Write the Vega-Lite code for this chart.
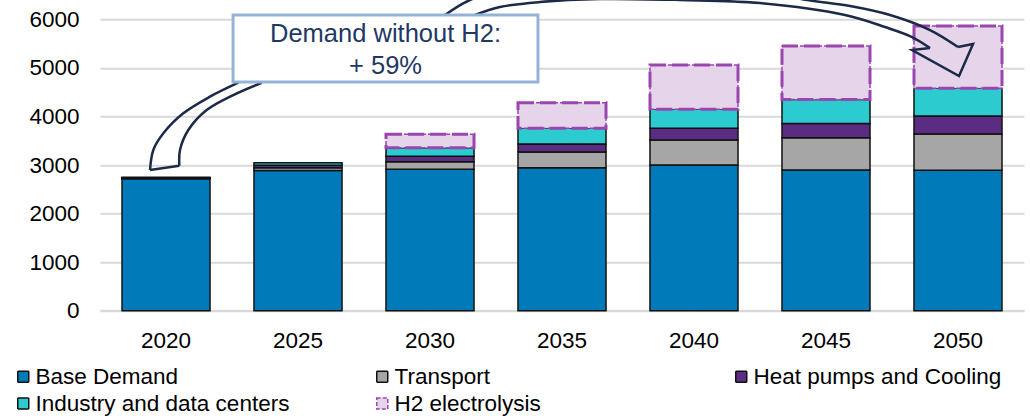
{
  "$schema": "https://vega.github.io/schema/vega-lite/v6.json",
  "width": 924,
  "height": 291.4,
  "autosize": {"type": "none"},
  "padding": {"left": 100, "top": 19.3, "right": 6, "bottom": 107.3},
  "config": {"font": "Liberation Sans", "view": {"stroke": null}},
  "datasets": {
    "bars": [
      {"year": "2020", "series": "Base Demand", "value": 2715, "ord": 1},
      {"year": "2020", "series": "Transport", "value": 12, "ord": 2},
      {"year": "2020", "series": "Heat pumps and Cooling", "value": 10, "ord": 3},
      {"year": "2020", "series": "Industry and data centers", "value": 10, "ord": 4},
      {"year": "2025", "series": "Base Demand", "value": 2885, "ord": 1},
      {"year": "2025", "series": "Transport", "value": 60, "ord": 2},
      {"year": "2025", "series": "Heat pumps and Cooling", "value": 50, "ord": 3},
      {"year": "2025", "series": "Industry and data centers", "value": 52, "ord": 4},
      {"year": "2030", "series": "Base Demand", "value": 2910, "ord": 1},
      {"year": "2030", "series": "Transport", "value": 158, "ord": 2},
      {"year": "2030", "series": "Heat pumps and Cooling", "value": 111, "ord": 3},
      {"year": "2030", "series": "Industry and data centers", "value": 177, "ord": 4},
      {"year": "2030", "series": "H2 electrolysis", "value": 276, "ord": 5},
      {"year": "2035", "series": "Base Demand", "value": 2944, "ord": 1},
      {"year": "2035", "series": "Transport", "value": 324, "ord": 2},
      {"year": "2035", "series": "Heat pumps and Cooling", "value": 164, "ord": 3},
      {"year": "2035", "series": "Industry and data centers", "value": 323, "ord": 4},
      {"year": "2035", "series": "H2 electrolysis", "value": 528, "ord": 5},
      {"year": "2040", "series": "Base Demand", "value": 3000, "ord": 1},
      {"year": "2040", "series": "Transport", "value": 515, "ord": 2},
      {"year": "2040", "series": "Heat pumps and Cooling", "value": 240, "ord": 3},
      {"year": "2040", "series": "Industry and data centers", "value": 392, "ord": 4},
      {"year": "2040", "series": "H2 electrolysis", "value": 912, "ord": 5},
      {"year": "2045", "series": "Base Demand", "value": 2895, "ord": 1},
      {"year": "2045", "series": "Transport", "value": 665, "ord": 2},
      {"year": "2045", "series": "Heat pumps and Cooling", "value": 296, "ord": 3},
      {"year": "2045", "series": "Industry and data centers", "value": 494, "ord": 4},
      {"year": "2045", "series": "H2 electrolysis", "value": 1098, "ord": 5},
      {"year": "2050", "series": "Base Demand", "value": 2890, "ord": 1},
      {"year": "2050", "series": "Transport", "value": 747, "ord": 2},
      {"year": "2050", "series": "Heat pumps and Cooling", "value": 371, "ord": 3},
      {"year": "2050", "series": "Industry and data centers", "value": 570, "ord": 4},
      {"year": "2050", "series": "H2 electrolysis", "value": 1283, "ord": 5}
    ],
    "arrowCurves": [
      {"seg": "a1L", "i": 1, "ax": 1.048, "av": 4694},
      {"seg": "a1L", "i": 2, "ax": 0.833, "av": 4406},
      {"seg": "a1L", "i": 3, "ax": 0.631, "av": 4064},
      {"seg": "a1L", "i": 4, "ax": 0.480, "av": 3652},
      {"seg": "a1L", "i": 5, "ax": 0.404, "av": 3309},
      {"seg": "a1L", "i": 6, "ax": 0.379, "av": 2897},
      {"seg": "a1R", "i": 1, "ax": 1.225, "av": 4694},
      {"seg": "a1R", "i": 2, "ax": 1.010, "av": 4441},
      {"seg": "a1R", "i": 3, "ax": 0.808, "av": 4132},
      {"seg": "a1R", "i": 4, "ax": 0.669, "av": 3720},
      {"seg": "a1R", "i": 5, "ax": 0.606, "av": 3309},
      {"seg": "a1R", "i": 6, "ax": 0.601, "av": 2985},
      {"seg": "a2U", "i": 1, "ax": 2.614, "av": 6088},
      {"seg": "a2U", "i": 2, "ax": 2.803, "av": 6397},
      {"seg": "a2U", "i": 3, "ax": 3.182, "av": 6685},
      {"seg": "a2U", "i": 4, "ax": 3.788, "av": 6850},
      {"seg": "a2U", "i": 5, "ax": 4.545, "av": 6788},
      {"seg": "a2U", "i": 6, "ax": 5.000, "av": 6582},
      {"seg": "a2U", "i": 7, "ax": 5.356, "av": 6397},
      {"seg": "a2U", "i": 8, "ax": 5.682, "av": 6273},
      {"seg": "a2U", "i": 9, "ax": 5.985, "av": 6088},
      {"seg": "a2U", "i": 10, "ax": 6.288, "av": 5779},
      {"seg": "a2U", "i": 11, "ax": 6.500, "av": 5429},
      {"seg": "a2L", "i": 1, "ax": 2.841, "av": 6088},
      {"seg": "a2L", "i": 2, "ax": 3.030, "av": 6253},
      {"seg": "a2L", "i": 3, "ax": 3.333, "av": 6356},
      {"seg": "a2L", "i": 4, "ax": 3.788, "av": 6418},
      {"seg": "a2L", "i": 5, "ax": 4.394, "av": 6397},
      {"seg": "a2L", "i": 6, "ax": 5.000, "av": 6335},
      {"seg": "a2L", "i": 7, "ax": 5.644, "av": 6088},
      {"seg": "a2L", "i": 8, "ax": 5.947, "av": 5841},
      {"seg": "a2L", "i": 9, "ax": 6.152, "av": 5635},
      {"seg": "a2L", "i": 10, "ax": 6.288, "av": 5409}
    ],
    "arrowLines": [
      {"seg": "a1B", "i": 1, "ax": 0.379, "av": 2897},
      {"seg": "a1B", "i": 2, "ax": 0.601, "av": 2985},
      {"seg": "a2H", "i": 1, "ax": 6.288, "av": 5409},
      {"seg": "a2H", "i": 2, "ax": 6.152, "av": 5368},
      {"seg": "a2H", "i": 3, "ax": 6.508, "av": 4832},
      {"seg": "a2H", "i": 4, "ax": 6.614, "av": 5491},
      {"seg": "a2H", "i": 5, "ax": 6.500, "av": 5429}
    ],
    "box": [
      {"x1": 1.008, "x2": 3.318, "v1": 6088, "v2": 4709}
    ],
    "labels": [
      {"text": "Demand without H2:", "ax": 2.163, "av": 5532},
      {"text": "+ 59%", "ax": 2.163, "av": 4873}
    ]
  },
  "layer": [
    {
      "data": {"name": "bars"},
      "mark": {"type": "bar", "strokeWidth": 1.5},
      "encoding": {
        "x": {
          "field": "year", "type": "ordinal",
          "scale": {"paddingInner": 0.3333, "paddingOuter": 0.1667},
          "axis": {"title": null, "labelAngle": 0, "ticks": false, "tickSize": 0, "domain": true, "domainColor": "#D9D9D9", "domainWidth": 2, "labelFontSize": 22.5, "labelColor": "#000000", "labelPadding": 19}
        },
        "y": {
          "field": "value", "type": "quantitative", "stack": "zero",
          "scale": {"domain": [0, 6000], "nice": false},
          "axis": {"title": null, "format": "d", "values": [0, 1000, 2000, 3000, 4000, 5000, 6000], "grid": true, "gridColor": "#D9D9D9", "gridWidth": 2, "domain": false, "ticks": false, "tickSize": 0, "labelPadding": 21, "labelFontSize": 22.5, "labelColor": "#000000"}
        },
        "color": {
          "field": "series", "type": "nominal",
          "scale": {
            "domain": ["Base Demand", "Transport", "Heat pumps and Cooling", "Industry and data centers", "H2 electrolysis"],
            "range": ["#007AB8", "#A6A6A6", "#5A2D82", "#2BCBCF", "#E6D5EA"]
          },
          "legend": {
            "title": null, "orient": "none", "legendX": -88, "legendY": 346,
            "direction": "horizontal", "columns": 3, "gridAlign": "all",
            "columnPadding": 81, "rowPadding": 4, "labelLimit": 0,
            "symbolType": "square", "symbolSize": 121, "symbolStrokeWidth": 1.5,
            "labelFontSize": 22.5, "labelColor": "#000000", "labelOffset": 1
          }
        },
        "stroke": {
          "field": "series", "type": "nominal",
          "scale": {
            "domain": ["Base Demand", "Transport", "Heat pumps and Cooling", "Industry and data centers", "H2 electrolysis"],
            "range": ["#111111", "#111111", "#111111", "#111111", "#9B45B0"]
          }
        },
        "strokeDash": {
          "field": "series", "type": "nominal",
          "scale": {
            "domain": ["Base Demand", "Transport", "Heat pumps and Cooling", "Industry and data centers", "H2 electrolysis"],
            "range": [[1, 0], [1, 0], [1, 0], [1, 0], [4, 2]]
          }
        },
        "order": {"field": "ord", "type": "quantitative"}
      }
    },
    {
      "data": {"name": "bars"},
      "mark": {"type": "bar", "fill": "transparent", "strokeWidth": 3, "strokeDash": [16, 6]},
      "encoding": {
        "x": {
          "field": "year", "type": "ordinal",
          "scale": {"paddingInner": 0.3333, "paddingOuter": 0.1667},
          "axis": null
        },
        "y": {
          "field": "value", "type": "quantitative", "stack": "zero",
          "scale": {"domain": [0, 6000], "nice": false}, "title": null
        },
        "detail": {"field": "series"},
        "stroke": {
          "condition": {"test": "datum.series === 'H2 electrolysis'", "value": "#9B45B0"},
          "value": "transparent"
        },
        "order": {"field": "ord", "type": "quantitative"}
      }
    },
    {
      "data": {"name": "arrowCurves"},
      "mark": {"type": "line", "interpolate": "catmull-rom", "color": "#1C2A48", "strokeWidth": 2.5},
      "encoding": {
        "x": {"field": "ax", "type": "quantitative", "scale": {"domain": [0, 7], "nice": false, "zero": false}, "axis": null},
        "y": {"field": "av", "type": "quantitative", "scale": {"domain": [0, 6000], "nice": false}, "title": null},
        "detail": {"field": "seg"},
        "order": {"field": "i", "type": "quantitative"}
      }
    },
    {
      "data": {"name": "arrowLines"},
      "mark": {"type": "line", "interpolate": "linear", "color": "#1C2A48", "strokeWidth": 2.5, "strokeJoin": "miter"},
      "encoding": {
        "x": {"field": "ax", "type": "quantitative", "scale": {"domain": [0, 7], "nice": false, "zero": false}, "axis": null},
        "y": {"field": "av", "type": "quantitative", "scale": {"domain": [0, 6000], "nice": false}, "title": null},
        "detail": {"field": "seg"},
        "order": {"field": "i", "type": "quantitative"}
      }
    },
    {
      "data": {"name": "box"},
      "mark": {"type": "rect", "fill": "#FFFFFF", "stroke": "#95B3D7", "strokeWidth": 3},
      "encoding": {
        "x": {"field": "x1", "type": "quantitative", "scale": {"domain": [0, 7], "nice": false, "zero": false}, "axis": null},
        "x2": {"field": "x2"},
        "y": {"field": "v1", "type": "quantitative", "scale": {"domain": [0, 6000], "nice": false}, "title": null},
        "y2": {"field": "v2"}
      }
    },
    {
      "data": {"name": "labels"},
      "mark": {"type": "text", "align": "center", "baseline": "alphabetic", "fontSize": 25.5, "color": "#1F3864"},
      "encoding": {
        "x": {"field": "ax", "type": "quantitative", "scale": {"domain": [0, 7], "nice": false, "zero": false}, "axis": null},
        "y": {"field": "av", "type": "quantitative", "scale": {"domain": [0, 6000], "nice": false}, "title": null},
        "text": {"field": "text"}
      }
    }
  ],
  "resolve": {"scale": {"x": "independent"}, "axis": {"x": "independent"}}
}
